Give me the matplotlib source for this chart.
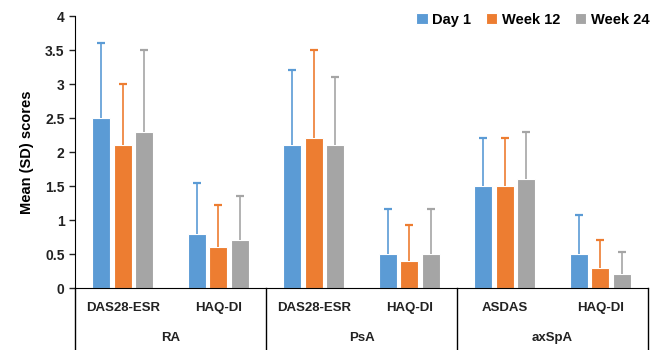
import numpy as np
import matplotlib
matplotlib.use("Agg")
import matplotlib.pyplot as plt
import matplotlib.transforms as mtransforms

plt.rcParams['font.family'] = ['Liberation Sans', 'DejaVu Sans']
plt.rcParams['font.weight'] = 'bold'

# categories (inner level) and groups (outer level)
measures = ["DAS28-ESR", "HAQ-DI", "DAS28-ESR", "HAQ-DI", "ASDAS", "HAQ-DI"]
groups = ["RA", "PsA", "axSpA"]
series = ["Day 1", "Week 12", "Week 24"]

# mean scores
day1 = [2.5, 0.8, 2.1, 0.5, 1.5, 0.5]
week12 = [2.1, 0.6, 2.2, 0.4, 1.5, 0.3]
week24 = [2.3, 0.7, 2.1, 0.5, 1.6, 0.2]

# standard deviations (upper error bars only)
day1_sd = [1.1, 0.75, 1.1, 0.66, 0.7, 0.57]
week12_sd = [0.9, 0.62, 1.3, 0.52, 0.7, 0.4]
week24_sd = [1.2, 0.65, 1.0, 0.66, 0.7, 0.33]

colors = ["#5B9BD5", "#ED7D31", "#A5A5A5"]

fig = plt.figure(figsize=(6.61, 3.5), dpi=100)
ax = fig.add_axes([75 / 661, 1 - 288 / 350, (648 - 75) / 661, (288 - 16) / 350])

x = np.arange(len(measures))
step = 0.225
width = 0.185
cap = 0.04
for i, (vals, sds, name) in enumerate(zip([day1, week12, week24], [day1_sd, week12_sd, week24_sd], series)):
    pos = x + (i - 1) * step
    vals = np.array(vals)
    tops = vals + np.array(sds)
    ax.bar(pos, vals, width=width, color=colors[i], edgecolor="white", linewidth=0.8, label=name, zorder=2)
    # upper error bars only
    ax.vlines(pos, vals, tops, color=colors[i], lw=1.2, zorder=3)
    ax.hlines(tops, pos - cap, pos + cap, color=colors[i], lw=1.6, zorder=3)

ax.set_xlim(-0.5, len(measures) - 0.5)
ax.set_ylim(0, 4)
ax.set_yticks(np.arange(0, 4.01, 0.5))
ax.set_yticklabels(["0", "0.5", "1", "1.5", "2", "2.5", "3", "3.5", "4"], fontsize=10, fontweight="bold")
ax.set_xticks([])
ax.spines["top"].set_visible(False)
ax.spines["right"].set_visible(False)
ax.spines["left"].set_color("black")
ax.spines["bottom"].set_color("black")
ax.tick_params(axis="y", length=4, width=1, colors="#222222")
ax.set_ylabel("Mean (SD) scores", fontsize=10.5, fontweight="bold", labelpad=8)

# multi-level category axis
trans = mtransforms.blended_transform_factory(ax.transData, ax.transAxes)
h = 272.0
y_inner = -(308 - 288) / h
y_outer = -(338 - 288) / h
y_bottom = -(350 - 288) / h
for xi, m in zip(x, measures):
    ax.text(xi, y_inner, m, transform=trans, ha="center", va="center", fontsize=9.5, fontweight="bold", color="#222222")
for gi, g in enumerate(groups):
    ax.text(2 * gi + 0.5, y_outer, g, transform=trans, ha="center", va="center", fontsize=9.5, fontweight="bold", color="#222222")
for sx in [-0.5, 1.5, 3.5, 5.5]:
    ax.plot([sx, sx], [0, y_bottom], transform=trans, color="black", lw=1, clip_on=False)

ax.legend(loc="upper right", bbox_to_anchor=(1.025, 1.06), ncol=3, frameon=False,
          handlelength=0.8, handleheight=0.8, handletextpad=0.3, columnspacing=1.0,
          prop={"weight": "bold", "size": 10.5})

fig.savefig("out.png", dpi=100)
